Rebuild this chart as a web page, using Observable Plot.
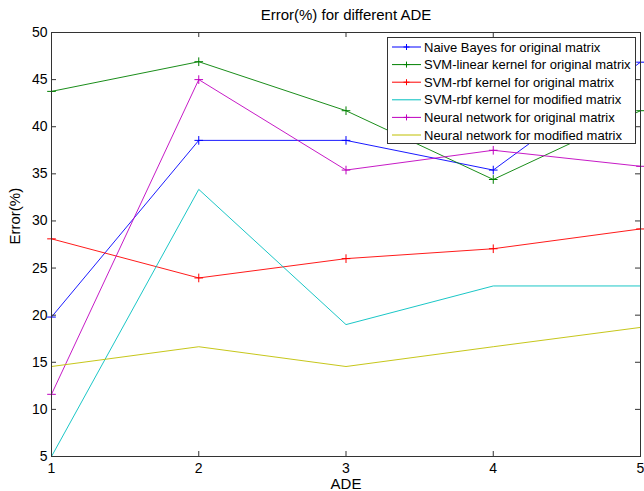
<!DOCTYPE html>
<html>
<head>
<meta charset="utf-8">
<script src="https://cdn.jsdelivr.net/npm/d3@7"></script>
<script src="https://cdn.jsdelivr.net/npm/@observablehq/plot@0.6"></script>
<style>
  html, body { margin: 0; padding: 0; background: #fff; }
  #chart { position: relative; width: 644px; height: 491px; }
</style>
</head>
<body>
<div id="chart"></div>
<script>
const ade = [1, 2, 3, 4, 5];
const seriesNames = [
  "Naive Bayes for original matrix",
  "SVM-linear kernel for original matrix",
  "SVM-rbf kernel for original matrix",
  "SVM-rbf kernel for modified matrix",
  "Neural network for original matrix",
  "Neural network for modified matrix"
];
const naiveBayes   = [19.8, 38.55, 38.55, 35.4, 46.85];
const svmLinear    = [43.75, 46.9, 41.7, 34.4, 41.7];
const svmRbfOrig   = [28.1, 23.95, 26.0, 27.05, 29.15];
const svmRbfMod    = [5.0, 33.35, 19.0, 23.1, 23.1];
const nnOrig       = [11.6, 45.0, 35.4, 37.5, 35.8];
const nnMod        = [14.55, 16.65, 14.55, 16.65, 18.7];
const seriesValues = [naiveBayes, svmLinear, svmRbfOrig, svmRbfMod, nnOrig, nnMod];
const seriesColors = ["#0000ff", "#008000", "#ff0000", "#00bfbf", "#bf00bf", "#bfbf00"];
const hasMarker    = [true, true, true, false, true, false];
const xTicks = [1, 2, 3, 4, 5];
const yTicks = [5, 10, 15, 20, 25, 30, 35, 40, 45, 50];
const titleText = "Error(%) for different ADE";
const xLabel = "ADE";
const yLabel = "Error(%)";

const rows = [];
seriesNames.forEach((name, i) => {
  ade.forEach((a, j) => rows.push({series: name, ade: a, value: seriesValues[i][j], marker: hasMarker[i]}));
});

const W = 644, H = 491;
const mL = 51, mR = 4, mT = 32, mB = 35;
const pw = W - mL - mR, ph = H - mT - mB;
const tickLen = 5;
const axisColor = "#333333";
const font = "Liberation Sans, Arial, Helvetica, sans-serif";

const chart = Plot.plot({
  width: W,
  height: H,
  marginLeft: mL,
  marginRight: mR,
  marginTop: mT,
  marginBottom: mB,
  style: {fontFamily: font, background: "#fff", color: "#000"},
  x: {domain: [1, 5]},
  y: {domain: [5, 50]},
  color: {domain: seriesNames, range: seriesColors},
  marks: [
    Plot.line(rows, {x: "ade", y: "value", z: "series", stroke: "series", strokeWidth: 0.9}),
    Plot.dot(rows.filter(d => d.marker), {x: "ade", y: "value", stroke: "series", symbol: "plus", r: 2.9, strokeWidth: 1}),
    Plot.tickY(yTicks, {y: d => d, insetRight: pw - tickLen, stroke: axisColor}),
    Plot.tickY(yTicks, {y: d => d, insetLeft: pw - tickLen, stroke: axisColor}),
    Plot.tickX(xTicks, {x: d => d, insetTop: ph - tickLen, stroke: axisColor}),
    Plot.tickX(xTicks, {x: d => d, insetBottom: ph - tickLen, stroke: axisColor}),
    Plot.frame({stroke: axisColor}),
    Plot.axisY(yTicks, {anchor: "left", tickSize: 0, tickPadding: 4, fontSize: 14, label: null, fill: "#000", tickFormat: d3.format("d")}),
    Plot.axisX(xTicks, {anchor: "bottom", tickSize: 0, tickPadding: 7, fontSize: 14, label: null, fill: "#000", tickFormat: d3.format("d")}),
    Plot.text([titleText], {frameAnchor: "top", lineAnchor: "bottom", dy: -12.5, fontSize: 15, fill: "#000"}),
    Plot.text([xLabel], {frameAnchor: "bottom", lineAnchor: "bottom", dy: 32.5, fontSize: 15, fill: "#000"}),
    Plot.text([yLabel], {frameAnchor: "left", rotate: -90, dx: -36, fontSize: 15, fill: "#000"})
  ]
});

// Legend inside the axes (upper right), drawn into the SVG
const svg = d3.select(chart);
const lx = 387, ly = 37, lw = 248, lh = 106;
const leg = svg.append("g").attr("font-family", font).attr("font-size", 13).attr("text-anchor", "start");
leg.append("rect").attr("x", lx + 0.5).attr("y", ly + 0.5).attr("width", lw).attr("height", lh)
  .attr("fill", "#fff").attr("stroke", axisColor).attr("stroke-width", 1);
seriesNames.forEach((name, i) => {
  const yy = 47 + i * 17.6;
  const g = leg.append("g");
  g.append("line").attr("x1", 392).attr("x2", 421).attr("y1", yy).attr("y2", yy)
    .attr("stroke", seriesColors[i]).attr("stroke-width", 1);
  if (hasMarker[i]) {
    g.append("path").attr("d", `M${406.5 - 3},${yy}h6M406.5,${yy - 3}v6`)
      .attr("stroke", seriesColors[i]).attr("stroke-width", 1).attr("fill", "none");
  }
  g.append("text").attr("x", 424).attr("y", yy).attr("dy", "0.35em").attr("text-anchor", "start")
    .attr("fill", "#000").text(name);
});

document.getElementById("chart").appendChild(chart);
</script>
</body>
</html>
